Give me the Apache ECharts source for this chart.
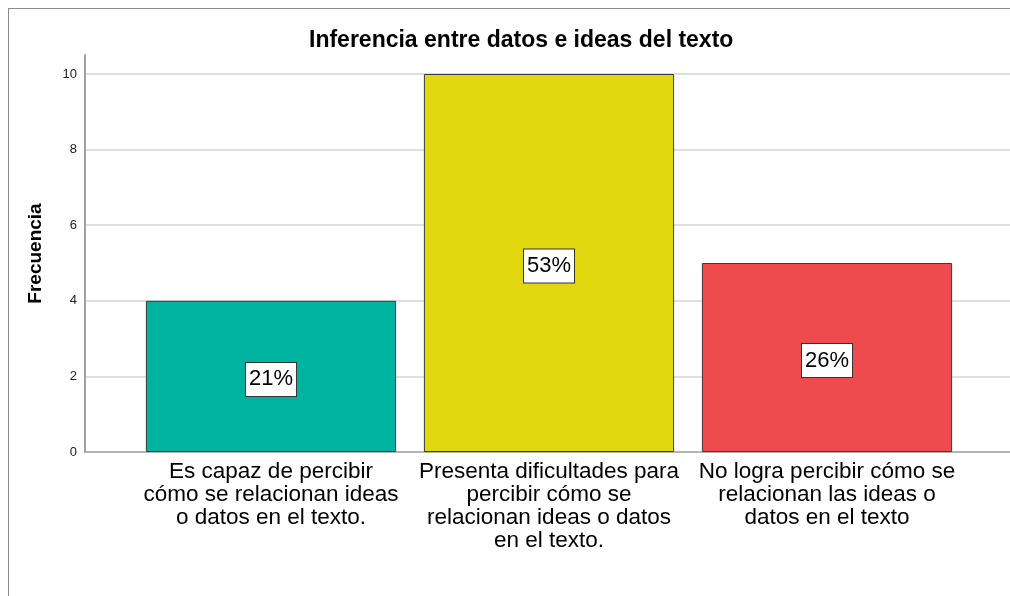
<!DOCTYPE html>
<html>
<head>
<meta charset="utf-8">
<script src="https://cdn.jsdelivr.net/npm/echarts@6/dist/echarts.min.js"></script>
<style>
html,body{margin:0;padding:0;background:#fff;}
#frame{position:absolute;left:8px;top:8px;width:1010px;height:600px;border-top:1px solid #8c8c8c;border-left:1px solid #8c8c8c;}
#chart{position:absolute;left:0;top:0;width:1010px;height:596px;}
</style>
</head>
<body>
<div id="frame"></div>
<div id="chart"></div>
<script>
const titleText = 'Inferencia entre datos e ideas del texto';
const categories = [
  'Es capaz de percibir\ncómo se relacionan ideas\no datos en el texto.',
  'Presenta dificultades para\npercibir cómo se\nrelacionan ideas o datos\nen el texto.',
  'No logra percibir cómo se\nrelacionan las ideas o\ndatos en el texto'
];
const frequencies = [4, 10, 5];
const percentLabels = ['21%', '53%', '26%'];
const barColors = ['#00b2a0', '#e1d70f', '#ef4a4d'];
const yTicks = { min: 0, max: 10, interval: 2 };

const FONT = '"Liberation Sans", Arial, sans-serif';
const chart = echarts.init(document.getElementById('chart'), null, { renderer: 'canvas' });
chart.setOption({
  animation: false,
  backgroundColor: 'transparent',
  title: {
    text: titleText, left: 304, top: 24,
    textStyle: { fontFamily: FONT, fontSize: 23, fontWeight: 'bold', color: '#000' }
  },
  grid: [
    { left: 86, right: 0, top: 74, bottom: 144 },
    { left: 132, right: 44, top: 74, bottom: 144 },
    { left: 85, right: 0, top: 55, bottom: 144 }
  ],
  xAxis: [
    { gridIndex: 0, type: 'category', data: [''], axisLine: { show: true, lineStyle: { color: '#a6a6a6', width: 1.5 } },
      axisTick: { show: false }, axisLabel: { show: false } },
    { gridIndex: 1, type: 'category', data: categories, axisLine: { show: false }, axisTick: { show: false },
      axisLabel: { interval: 0, margin: 8, fontFamily: FONT, fontSize: 22.5, lineHeight: 23, color: '#000', align: 'center' } },
    { gridIndex: 2, type: 'category', data: [''], show: false }
  ],
  yAxis: [
    { gridIndex: 0, type: 'value', min: yTicks.min, max: yTicks.max, interval: yTicks.interval,
      axisLine: { show: false }, axisTick: { show: false },
      axisLabel: { fontFamily: FONT, fontSize: 13, color: '#222', margin: 9 },
      splitLine: { show: true, lineStyle: { color: '#d4d4d4', width: 1.5 } } },
    { gridIndex: 1, type: 'value', min: yTicks.min, max: yTicks.max, interval: yTicks.interval, show: false },
    { gridIndex: 2, type: 'value', min: 0, max: 1, axisLine: { show: true, lineStyle: { color: '#a0a0a0', width: 2 } },
      axisTick: { show: false }, axisLabel: { show: false }, splitLine: { show: false },
      name: 'Frecuencia', nameLocation: 'middle', nameRotate: 90, nameGap: 40,
      nameTextStyle: { fontFamily: FONT, fontSize: 19, fontWeight: 'bold', color: '#000' } }
  ],
  series: [{
    type: 'bar', xAxisIndex: 1, yAxisIndex: 1,
    barCategoryGap: '10%',
    data: frequencies.map((v, i) => ({ value: v, itemStyle: { color: barColors[i] } })),
    itemStyle: { borderColor: '#3a3a3a', borderWidth: 1 },
    label: {
      show: true, position: 'inside',
      formatter: p => percentLabels[p.dataIndex],
      fontFamily: FONT, fontSize: 22, color: '#000', lineHeight: 24,
      backgroundColor: '#fff', borderColor: '#333', borderWidth: 1, padding: [5, 3, 4, 3],
      offset: [0, 3]
    }
  }]
});
</script>
</body>
</html>
